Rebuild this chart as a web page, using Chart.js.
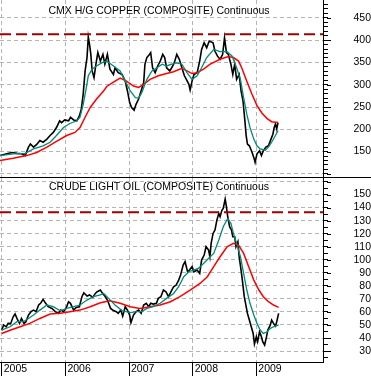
<!DOCTYPE html>
<html>
<head>
<meta charset="utf-8">
<script src="https://cdn.jsdelivr.net/npm/chart.js@4"></script>
<style>
  html, body { margin: 0; padding: 0; background: #fff; }
  #wrap { width: 371px; height: 376px; overflow: hidden; }
  canvas { display: block; }
  #sep { width: 371px; height: 1px; background: #000; }
</style>
</head>
<body>
<div id="wrap">
  <canvas id="cu" width="371" height="177"></canvas>
  <div id="sep"></div>
  <canvas id="cl" width="371" height="198"></canvas>
</div>
<script>
/* Copper and crude oil, daily price with a fast (teal) and slow (red) average.
 * Points are [decimal year, price]. */

const years = [2005, 2006, 2007, 2008, 2009];

const copperLevel = 413;
const copperLabels = [150, 200, 250, 300, 350, 400, 450];
const copperPrice = [
  [2004.97,141],[2005.08,145],[2005.16,148],[2005.24,146],[2005.31,145],[2005.37,141],[2005.42,160],
  [2005.45,167],[2005.50,160],[2005.55,166],[2005.60,175],[2005.65,171],[2005.71,178],[2005.76,186],
  [2005.81,193],[2005.86,204],[2005.91,219],[2005.94,215],[2005.99,221],[2006.05,219],[2006.08,227],
  [2006.13,221],[2006.18,219],[2006.22,230],[2006.25,245],[2006.28,279],[2006.31,331],[2006.34,361],
  [2006.36,407],[2006.38,390],[2006.40,368],[2006.42,331],[2006.45,316],[2006.48,346],[2006.51,372],
  [2006.55,353],[2006.59,368],[2006.62,346],[2006.66,368],[2006.70,335],[2006.755,323],[2006.78,338],
  [2006.83,327],[2006.89,323],[2006.94,308],[2006.975,286],[2007.01,260],[2007.04,249],[2007.08,243],
  [2007.11,256],[2007.15,268],[2007.19,286],[2007.23,305],[2007.25,346],[2007.28,361],[2007.32,368],
  [2007.34,372],[2007.37,338],[2007.41,327],[2007.45,342],[2007.49,353],[2007.53,368],[2007.56,361],
  [2007.59,338],[2007.64,331],[2007.67,338],[2007.71,349],[2007.75,368],[2007.79,357],[2007.83,338],
  [2007.87,320],[2007.90,312],[2007.94,301],[2007.96,288],[2007.99,308],[2008.02,323],[2008.07,327],
  [2008.11,353],[2008.14,379],[2008.18,394],[2008.22,383],[2008.26,398],[2008.32,394],[2008.35,375],
  [2008.39,364],[2008.43,357],[2008.47,368],[2008.50,405],[2008.53,372],[2008.56,368],[2008.60,346],
  [2008.63,323],[2008.66,346],[2008.69,312],[2008.73,323],[2008.76,286],[2008.79,264],[2008.82,219],
  [2008.84,186],[2008.86,167],[2008.89,163],[2008.93,149],[2008.96,137],[2008.98,126],[2009.01,145],
  [2009.05,152],[2009.08,141],[2009.11,152],[2009.15,160],[2009.19,163],[2009.23,178],[2009.26,189],
  [2009.28,204],[2009.30,212],[2009.32,201],[2009.34,215]
];
const copperFast = [
  [2004.97,141],[2005.18,145],[2005.37,146],[2005.50,156],[2005.65,163],[2005.76,171],[2005.86,186],
  [2005.97,204],[2006.07,213],[2006.18,219],[2006.23,227],[2006.28,256],[2006.33,294],[2006.36,320],
  [2006.42,335],[2006.49,342],[2006.57,349],[2006.65,353],[2006.755,342],[2006.86,331],[2006.94,308],
  [2007.02,286],[2007.10,271],[2007.15,270],[2007.20,282],[2007.28,312],[2007.36,331],[2007.44,338],
  [2007.52,346],[2007.59,342],[2007.67,346],[2007.75,349],[2007.83,346],[2007.91,327],[2007.99,312],
  [2008.07,320],[2008.14,338],[2008.22,361],[2008.33,379],[2008.43,374],[2008.54,374],[2008.62,364],
  [2008.69,338],[2008.75,312],[2008.80,271],[2008.85,234],[2008.90,204],[2008.96,178],[2009.01,163],
  [2009.06,156],[2009.14,153],[2009.19,160],[2009.24,171],[2009.30,186],[2009.34,197]
];
const copperSlow = [
  [2004.97,130],[2005.18,135],[2005.39,141],[2005.55,148],[2005.71,160],[2005.86,173],[2006.02,186],
  [2006.15,193],[2006.23,204],[2006.31,227],[2006.39,249],[2006.49,268],[2006.60,286],[2006.65,296],
  [2006.755,306],[2006.86,315],[2006.96,308],[2007.07,297],[2007.15,294],[2007.23,301],[2007.33,312],
  [2007.46,320],[2007.59,325],[2007.70,329],[2007.83,337],[2007.91,331],[2007.99,325],[2008.07,327],
  [2008.17,335],[2008.275,346],[2008.43,357],[2008.56,363],[2008.64,361],[2008.72,353],[2008.77,338],
  [2008.85,308],[2008.93,279],[2009.01,253],[2009.09,236],[2009.17,224],[2009.24,217],[2009.34,215]
];

const crudeLevel = 136.5;
const crudeLabels = [30, 40, 50, 60, 70, 80, 90, 100, 110, 120, 130, 140, 150];
const crudePrice = [
  [2005.00,46],[2005.03,50],[2005.07,48.6],[2005.10,51.2],[2005.14,51],[2005.18,56.3],[2005.21,58.4],
  [2005.25,53.8],[2005.28,51.2],[2005.31,55],[2005.35,51.2],[2005.38,52.5],[2005.42,57.6],[2005.46,60.2],
  [2005.50,61.4],[2005.54,60.2],[2005.58,65.3],[2005.61,66.6],[2005.65,69.6],[2005.69,66.6],[2005.73,64],
  [2005.79,62.7],[2005.84,60.2],[2005.89,58.9],[2005.93,61.4],[2005.97,60.2],[2006.01,62.7],[2006.05,67.8],
  [2006.08,66.6],[2006.13,61.4],[2006.17,63.5],[2006.22,64],[2006.26,71.7],[2006.29,74.7],[2006.34,72.2],
  [2006.38,73],[2006.43,71.2],[2006.47,74.2],[2006.50,75.5],[2006.55,76.8],[2006.59,73.7],[2006.62,72.2],
  [2006.66,69.1],[2006.69,65.3],[2006.71,62.7],[2006.755,61],[2006.80,60.2],[2006.83,58.9],[2006.87,61.4],
  [2006.90,56.8],[2006.94,64],[2006.975,61.4],[2007.01,57.6],[2007.03,51.7],[2007.07,57.6],[2007.11,60.2],
  [2007.15,61.4],[2007.19,58.9],[2007.23,65.3],[2007.27,66.6],[2007.31,64],[2007.34,66.6],[2007.38,66],
  [2007.43,66.6],[2007.46,70.4],[2007.50,71.7],[2007.54,76.8],[2007.58,75.5],[2007.62,71.7],[2007.66,75.5],
  [2007.70,79.3],[2007.74,80.6],[2007.78,84.4],[2007.81,88.3],[2007.85,95.9],[2007.88,98.5],[2007.92,90.8],
  [2007.95,92.1],[2007.99,94.7],[2008.02,90.8],[2008.07,92.1],[2008.11,89.5],[2008.14,99.8],[2008.18,103.6],
  [2008.21,110],[2008.25,107.4],[2008.27,102.3],[2008.29,112.6],[2008.32,120.2],[2008.35,122.8],
  [2008.38,130.4],[2008.41,135.6],[2008.43,133],[2008.46,138.1],[2008.48,139.4],[2008.51,146.5],
  [2008.53,140.7],[2008.55,133],[2008.58,125.3],[2008.61,122.8],[2008.63,117.7],[2008.66,117.7],
  [2008.68,110],[2008.71,113.8],[2008.73,102.3],[2008.76,92.1],[2008.78,84.4],[2008.81,71.7],[2008.84,64],
  [2008.86,58.9],[2008.89,53.8],[2008.92,48.6],[2008.95,43.5],[2008.97,35.4],[2009.00,41],[2009.02,37.2],
  [2009.05,44.8],[2009.08,41],[2009.10,37.2],[2009.13,34.6],[2009.16,41],[2009.18,46.1],[2009.22,50],
  [2009.24,53.8],[2009.27,51.2],[2009.30,49.2],[2009.32,52.5],[2009.35,58.9]
];
const crudeFast = [
  [2005.00,46],[2005.13,48.6],[2005.24,52.5],[2005.34,52.5],[2005.42,55],[2005.50,57.6],[2005.60,61.4],
  [2005.71,65.3],[2005.81,64],[2005.92,60.9],[2006.02,62.7],[2006.13,64],[2006.23,65.3],[2006.34,69.1],
  [2006.44,71.7],[2006.55,73],[2006.60,74.2],[2006.68,70.4],[2006.78,65.3],[2006.89,61],[2007.02,59.5],
  [2007.12,60.2],[2007.20,60.2],[2007.28,62.7],[2007.38,64],[2007.49,66.6],[2007.59,70.4],[2007.70,74.2],
  [2007.78,79.3],[2007.86,87],[2007.94,90.8],[2008.01,92.1],[2008.09,93.4],[2008.17,97.2],[2008.275,102.3],
  [2008.33,104.9],[2008.41,115.1],[2008.48,125.3],[2008.55,131.7],[2008.60,127.9],[2008.64,120.2],
  [2008.69,112.6],[2008.75,102.3],[2008.80,89.5],[2008.85,76.8],[2008.90,66.6],[2008.96,57.6],
  [2009.01,51.2],[2009.06,46.1],[2009.11,43.5],[2009.17,44.8],[2009.22,47.4],[2009.27,48.6],[2009.35,50]
];
const crudeSlow = [
  [2005.00,43.5],[2005.13,46],[2005.29,48.6],[2005.44,51.2],[2005.60,55],[2005.76,58.4],[2005.92,58.9],
  [2006.07,60.2],[2006.23,61.4],[2006.39,64],[2006.55,67],[2006.70,68.5],[2006.86,66.6],[2007.02,64],
  [2007.17,62.7],[2007.33,64],[2007.49,65.3],[2007.65,67.8],[2007.80,71.7],[2007.96,76.8],[2008.12,82],
  [2008.23,87],[2008.33,94.7],[2008.43,102.3],[2008.54,110],[2008.64,112.6],[2008.72,111.3],[2008.80,104.9],
  [2008.88,94.7],[2008.96,84.4],[2009.04,76.8],[2009.11,71.7],[2009.19,67.8],[2009.27,65.3],[2009.35,63.5]
];

const FAM = "'Liberation Sans', Arial, sans-serif";
const FONT = { family: FAM, size: 10.5 };
const X_MIN = 2004.973, X_MAX = 2010.047;
const GRID = "#b4b4b4";
const pts = (a) => a.map(([x, y]) => ({ x, y }));
const range = (a, b, s) => { const r = []; for (let v = a; v <= b + 1e-9; v += s) r.push(+v.toFixed(2)); return r; };

// panel caption inside the plot + longer marks at the labelled ticks
const extras = {
  id: "extras",
  afterDraw(c, _a, o) {
    const { ctx, chartArea: a } = c, ys = c.scales.y;
    ctx.save();
    ctx.strokeStyle = "#000"; ctx.lineWidth = 1;
    o.major.forEach((v) => {
      const p = Math.round(ys.getPixelForValue(v)) + 0.5;
      ctx.beginPath(); ctx.moveTo(a.right + 4, p); ctx.lineTo(a.right + 8, p); ctx.stroke();
    });
    ctx.font = `10.5px ${FAM}`; ctx.fillStyle = "#000"; ctx.textAlign = "center";
    ctx.fillText(o.text, 159, o.ty);
    ctx.restore();
  },
};

function panel(id, o) {
  const hasX = o.xh > 0;
  return new Chart(document.getElementById(id), {
    type: "line",
    data: { datasets: [
      { data: [{ x: X_MIN, y: o.level }, { x: X_MAX, y: o.level }], borderColor: "#a00000", borderWidth: 2, borderDash: [11, 5] },
      { data: pts(o.fast), borderColor: "#008a78", borderWidth: 1.3 },
      { data: pts(o.slow), borderColor: "#ff0000", borderWidth: 1.5 },
      { data: pts(o.price), borderColor: "#000", borderWidth: 1.6 },
    ] },
    options: {
      responsive: false, animation: false, devicePixelRatio: 1,
      layout: { padding: 0, autoPadding: false },
      elements: { point: { radius: 0 }, line: { tension: 0 } },
      plugins: { legend: { display: false }, tooltip: { enabled: false },
        extras: { text: o.title, ty: o.ty, major: o.grid } },
      scales: {
        x: { type: "linear", min: X_MIN, max: X_MAX,
          afterBuildTicks: (s) => { s.ticks = years.map((v) => ({ value: v })); },
          afterFit: (s) => { s.height = o.xh; s.paddingLeft = 0; s.paddingRight = 0; },
          grid: { color: GRID, drawTicks: hasX, tickLength: 14, tickColor: "#000", tickBorderDash: [] },
          border: { display: hasX, color: "#000", dash: [4, 3] },
          ticks: { display: hasX, align: "start", labelOffset: 2, padding: -12.7, color: "#000", font: FONT,
            autoSkip: false, maxRotation: 0, callback: (v) => String(v) } },
        y: { position: "right", min: o.min, max: o.max,
          afterBuildTicks: (s) => { s.ticks = o.ticks.map((v) => ({ value: v })); },
          afterFit: (s) => { s.width = 48; s.paddingTop = 0; s.paddingBottom = 0; },
          grid: { color: (c) => (c.tick && o.grid.includes(c.tick.value) ? GRID : "rgba(0,0,0,0)"),
            tickColor: "#000", tickLength: 5, tickBorderDash: [] },
          border: { color: "#000", dash: [4, 3] },
          ticks: { autoSkip: false, color: "#000", font: FONT, padding: 20, crossAlign: "far",
            callback: (v) => (o.labels.includes(v) ? String(v) : "") } },
      },
    },
    plugins: [extras],
  });
}

panel("cu", {
  title: "CMX H/G COPPER (COMPOSITE) Continuous", ty: 14, xh: 0,
  min: 93, max: 490, level: copperLevel,
  ticks: range(100, 480, 10), grid: range(100, 450, 50), labels: copperLabels,
  price: copperPrice, fast: copperFast, slow: copperSlow,
});
panel("cl", {
  title: "CRUDE LIGHT OIL (COMPOSITE) Continuous", ty: 12, xh: 14,
  min: 21.6, max: 162.7, level: crudeLevel,
  ticks: range(25, 160, 5), grid: range(30, 160, 10), labels: crudeLabels,
  price: crudePrice, fast: crudeFast, slow: crudeSlow,
});
</script>
</body>
</html>
